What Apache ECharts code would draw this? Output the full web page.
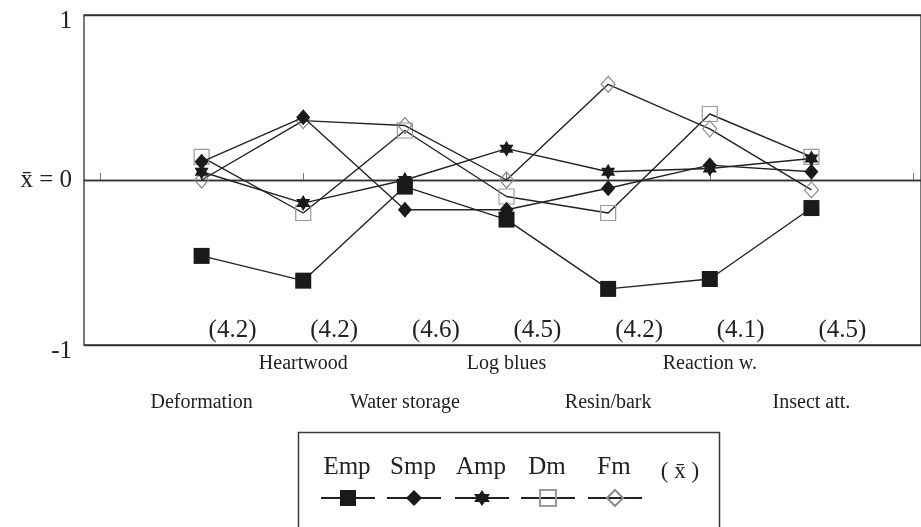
<!DOCTYPE html>
<html>
<head>
<meta charset="utf-8">
<script src="https://cdn.jsdelivr.net/npm/echarts@6/dist/echarts.min.js"></script>
<style>
html,body{margin:0;padding:0;background:#ffffff;}
#chart{width:921px;height:527px;}
</style>
</head>
<body>
<div id="chart"></div>
<script>
// ---- data ----
const categories = ['Deformation', 'Heartwood', 'Water storage', 'Log blues', 'Resin/bark', 'Reaction w.', 'Insect att.'];
const meanLabels = ['(4.2)', '(4.2)', '(4.6)', '(4.5)', '(4.2)', '(4.1)', '(4.5)'];
const seriesNames = ['Emp', 'Smp', 'Amp', 'Dm', 'Fm'];
const emp = [-0.46, -0.61, -0.04, -0.24, -0.66, -0.60, -0.17];
const smp = [0.11, 0.38, -0.18, -0.18, -0.05, 0.09, 0.05];
const amp = [0.05, -0.14, 0.00, 0.19, 0.05, 0.07, 0.13];
const dm  = [0.14, -0.20, 0.30, -0.10, -0.20, 0.40, 0.14];
const fm  = [0.00, 0.36, 0.33, 0.00, 0.58, 0.31, -0.06];
const yTickLabels = { '1': '1', '0': 'x\u0304 = 0', '-1': '-1' };
const legendMeanText = '( x\u0304 )';

// ---- chart ----
const serif = '"Liberation Serif", "DejaVu Serif", serif';
const ink = '#222222';
const hexagram = 'path://M0,-10 L8.66,5 L-8.66,5 Z M0,10 L-8.66,-5 L8.66,-5 Z';
const styles = {
  Emp: { symbol: 'rect', symbolSize: 16, itemStyle: { color: '#1a1a1a' } },
  Smp: { symbol: 'diamond', symbolSize: [14, 16], itemStyle: { color: '#1a1a1a' } },
  Amp: { symbol: hexagram, symbolSize: [14, 16], itemStyle: { color: '#1a1a1a' } },
  Dm:  { symbol: 'rect', symbolSize: 15, itemStyle: { color: 'rgba(255,255,255,0)', borderColor: '#9a9a9a', borderWidth: 1.2 } },
  Fm:  { symbol: 'diamond', symbolSize: [14, 16], itemStyle: { color: 'rgba(255,255,255,0)', borderColor: '#8a8a8a', borderWidth: 1.2 } }
};
const values = { Emp: emp, Smp: smp, Amp: amp, Dm: dm, Fm: fm };
const drawOrder = ['Dm', 'Fm', 'Emp', 'Smp', 'Amp'];

const xPositions = categories.map((c, i) => i + 1);
const tickPositions = [0].concat(xPositions, [categories.length + 1]);

const series = drawOrder.map((name, k) => ({
  name: name,
  type: 'line',
  data: values[name].map((v, i) => [xPositions[i], v]),
  symbol: styles[name].symbol,
  symbolSize: styles[name].symbolSize,
  itemStyle: styles[name].itemStyle,
  lineStyle: { color: ink, width: 1.4 },
  z: 3 + k,
  animation: false
}));

// legend layout (one legend per entry, placed below names)
const legendCenters = [347, 413, 481, 547, 614];
const legends = seriesNames.map((name, i) => ({
  data: [name],
  left: legendCenters[i] - 27,
  top: 488,
  itemWidth: 54,
  itemHeight: 20,
  padding: 0,
  formatter: () => '',
  selectedMode: false,
  textStyle: { fontSize: 1 }
}));

const graphics = [
  { type: 'rect', shape: { x: 298.5, y: 432.5, width: 421, height: 130 },
    style: { fill: 'none', stroke: '#3a3a3a', lineWidth: 1.5 }, silent: true }
].concat(seriesNames.map((name, i) => ({
  type: 'text', x: legendCenters[i], y: 467,
  style: { text: name, fill: ink, font: '25px ' + serif, textAlign: 'center', textVerticalAlign: 'middle' }
}))).concat([{
  type: 'text', x: 680, y: 472,
  style: { text: legendMeanText, fill: ink, font: '23px ' + serif, textAlign: 'center', textVerticalAlign: 'middle' }
}]);

const option = {
  backgroundColor: '#ffffff',
  animation: false,
  grid: { left: 84, right: -3, top: 15, bottom: 182, show: true, borderColor: '#333', borderWidth: 1.3, backgroundColor: 'transparent' },
  xAxis: [{
    type: 'value',
    min: -0.157, max: 8.078,
    position: 'bottom',
    axisLine: { show: true, lineStyle: { color: '#333', width: 1.3 } },
    axisTick: { show: true, inside: true, length: 7, customValues: tickPositions, lineStyle: { color: '#777', width: 1 } },
    splitLine: { show: false },
    axisLabel: {
      customValues: xPositions,
      margin: 9,
      lineHeight: 19.5,
      fontFamily: serif, fontSize: 20, color: ink,
      formatter: (v) => { const i = Math.round(v) - 1; return (i % 2 === 0 ? '\n\n' : '') + categories[i]; }
    }
  }, {
    type: 'value',
    min: -0.157, max: 8.078,
    position: 'bottom',
    axisLine: { show: false },
    axisTick: { show: false },
    splitLine: { show: false },
    axisLabel: {
      customValues: xPositions,
      inside: true,
      margin: 2,
      align: 'left',
      padding: [0, 0, 0, 7],
      fontFamily: serif, fontSize: 25, color: ink,
      formatter: (v) => meanLabels[Math.round(v) - 1]
    }
  }],
  yAxis: {
    type: 'value', min: -1, max: 1, interval: 1,
    axisLine: { show: false },
    axisTick: { show: false },
    splitLine: { show: true, lineStyle: { color: '#333', width: 1.3 } },
    axisLabel: {
      margin: 12, fontFamily: serif, fontSize: 25, color: ink,
      formatter: (v) => (v === 0 ? yTickLabels[String(v)] : '{s|' + yTickLabels[String(v)] + '}'),
      rich: { s: { fontFamily: serif, fontSize: 25, color: ink, padding: [12, 0, 0, 0] } }
    }
  },
  legend: legends,
  graphic: graphics,
  series: series
};

const chart = echarts.init(document.getElementById('chart'), null, { renderer: 'canvas' });
chart.setOption(option);
</script>
</body>
</html>
